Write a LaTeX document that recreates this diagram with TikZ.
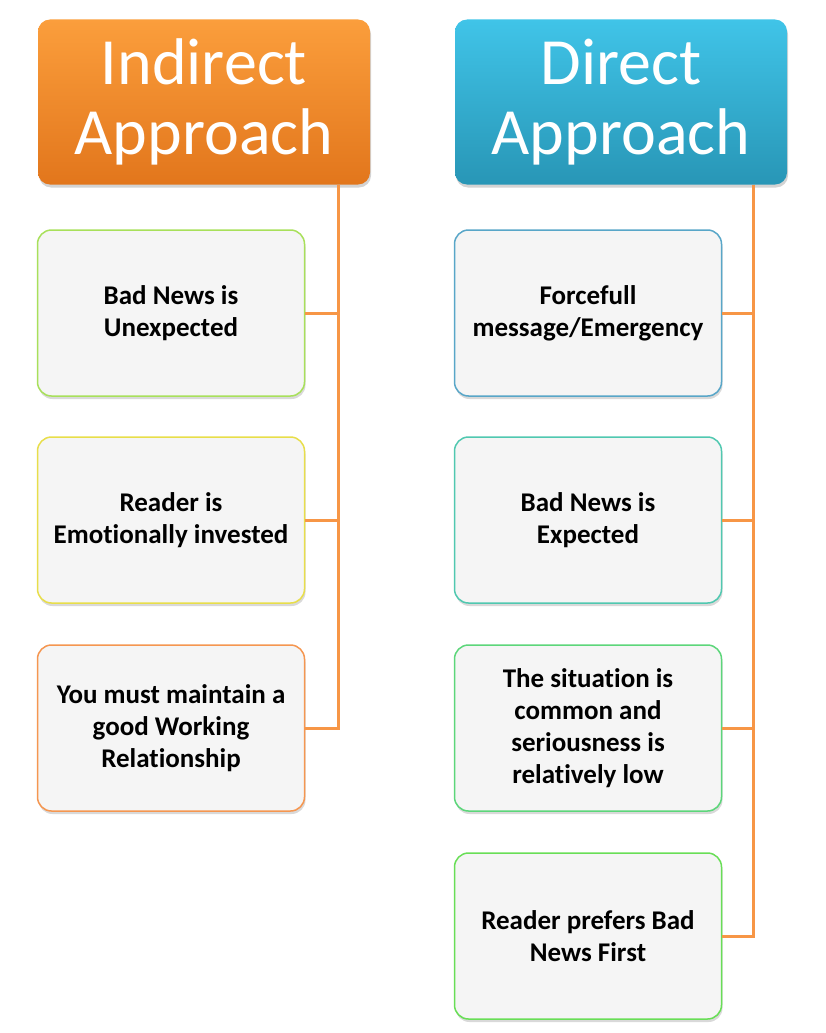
\documentclass[tikz,border=0pt]{standalone}
\usepackage{fontspec}
\setmainfont{Carlito}[Ligatures=NoCommon]
\usepackage{tikz}
\usetikzlibrary{shadows}
\definecolor{orangetop}{RGB}{251,158,60}
\definecolor{orangebot}{RGB}{226,118,28}
\definecolor{tealtop}{RGB}{64,196,232}
\definecolor{tealbot}{RGB}{40,150,182}
\definecolor{linkorange}{RGB}{247,150,70}
\definecolor{boxfill}{RGB}{245,245,245}
\definecolor{lime}{RGB}{168,224,90}
\definecolor{sun}{RGB}{232,222,74}
\definecolor{peach}{RGB}{245,150,80}
\definecolor{sky}{RGB}{88,166,200}
\definecolor{aqua}{RGB}{80,200,176}
\definecolor{leaf}{RGB}{92,214,122}
\definecolor{grass}{RGB}{104,222,86}

\tikzset{
  header/.style={rounded corners=12pt, minimum width=332pt, minimum height=165pt,
    align=center, text=white, font=\fontsize{66}{70}\selectfont,
    drop shadow={shadow xshift=1pt, shadow yshift=-3pt, opacity=0.35}},
  item/.style={rounded corners=14pt, minimum width=267pt, minimum height=166pt,
    align=center, fill=boxfill, line width=1.5pt, font=\bfseries\fontsize{27}{32}\selectfont,
    drop shadow={shadow xshift=1pt, shadow yshift=-3pt, opacity=0.3}},
  link/.style={linkorange, line width=3pt}
}

\begin{document}
\begin{tikzpicture}[x=1pt, y=-1pt]
\useasboundingbox (0,0) rectangle (826,1033);
% headers
\node[header, top color=orangetop, bottom color=orangebot] (indirect) at (204,102) {Indirect\\Approach};
\node[header, top color=tealtop, bottom color=tealbot] (direct) at (621,102) {Direct\\Approach};
% left column
\node[item, draw=lime] (l1) at (171,313) {Bad News is\\Unexpected};
\node[item, draw=sun] (l2) at (171,520) {Reader is\\Emotionally invested};
\node[item, draw=peach] (l3) at (171,728) {You must maintain a\\good Working\\Relationship};
% right column
\node[item, draw=sky] (r1) at (588,313) {Forcefull\\message/Emergency};
\node[item, draw=aqua] (r2) at (588,520) {Bad News is\\Expected};
\node[item, draw=leaf] (r3) at (588,728) {The situation is\\common and\\seriousness is\\relatively low};
\node[item, draw=grass] (r4) at (588,936) {Reader prefers Bad\\News First};
% trunks
\coordinate (tL) at ([xshift=-32pt]indirect.south east);
\coordinate (tR) at ([xshift=-34pt]direct.south east);
\draw[link] (tL) |- (l3.east);
\draw[link] (l1.east) -- (l1.east -| tL);
\draw[link] (l2.east) -- (l2.east -| tL);
\draw[link] (tR) |- (r4.east);
\draw[link] (r1.east) -- (r1.east -| tR);
\draw[link] (r2.east) -- (r2.east -| tR);
\draw[link] (r3.east) -- (r3.east -| tR);
\end{tikzpicture}
\end{document}
